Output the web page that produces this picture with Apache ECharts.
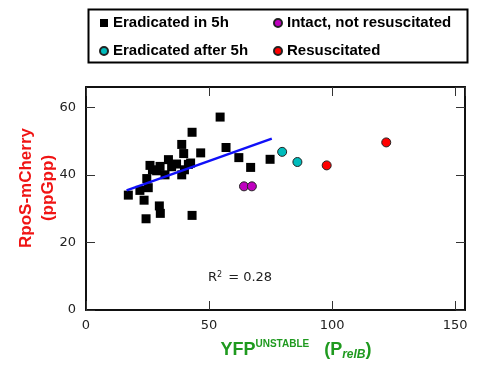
<!DOCTYPE html>
<html>
<head>
<meta charset="utf-8">
<script src="https://cdn.jsdelivr.net/npm/echarts@6/dist/echarts.min.js"></script>
<style>
  html, body { margin: 0; padding: 0; background: #fff; }
  #chart { width: 477px; height: 369px; }
</style>
</head>
<body>
<div id="chart"></div>
<script>
// YFP (x) vs RpoS-mCherry (y) per cell group
const eradicatedIn5h = [
  [17.2, 34.0], [21.9, 35.4], [23.6, 32.5], [24.4, 27.0], [24.7, 38.9],
  [25.3, 36.2], [26.0, 42.8], [27.0, 41.5], [28.7, 41.2], [29.8, 30.8],
  [30.2, 28.6], [30.1, 42.5], [32.1, 40.0], [33.5, 44.5], [34.8, 42.4],
  [36.8, 43.2], [38.9, 40.0], [40.0, 41.5], [41.6, 43.1], [42.5, 43.5],
  [39.7, 46.3], [38.9, 49.0], [43.1, 52.6], [43.1, 28.0], [46.6, 46.5],
  [54.5, 57.1], [56.9, 48.1], [62.1, 45.1], [66.9, 42.2], [74.8, 44.6]
];
const eradicatedAfter5h = [[79.7, 46.8], [85.9, 43.8]];
const intactNotResuscitated = [[64.2, 36.6], [67.4, 36.6]];
const resuscitated = [[97.8, 42.8], [122.0, 49.6]];
// linear fit over the "eradicated in 5h" group
const fitLine = [[16.5, 35.4], [75.5, 50.7]];
const rSquared = '0.28';

const xTicks = [0, 50, 100, 150];
const yTicks = [0, 20, 40, 60];

const chart = echarts.init(document.getElementById('chart'));
const tickFont = { fontFamily: 'DejaVu Sans', fontSize: 13, color: '#222' };

function axisCommon(showLabels) {
  return {
    axisLine: { show: true, onZero: false, lineStyle: { color: '#111', width: 2 } },
    axisTick: { show: true, inside: true, length: 9, lineStyle: { color: '#333', width: 1 } },
    splitLine: { show: false },
    axisLabel: Object.assign({ show: showLabels, showMaxLabel: false }, tickFont)
  };
}

const legendText = { fontFamily: 'Liberation Sans', fontWeight: 'bold', fontSize: 15, color: '#000', lineHeight: 16 };

chart.setOption({
  animation: false,
  grid: { left: 86, right: 12, top: 87, bottom: 59, containLabel: false },
  xAxis: [
    Object.assign({ type: 'value', min: xTicks[0], max: 154, interval: xTicks[1] - xTicks[0], position: 'bottom' }, axisCommon(true), {
      axisLabel: Object.assign({ margin: 9, showMaxLabel: false }, tickFont)
    }),
    Object.assign({ type: 'value', min: xTicks[0], max: 154, interval: xTicks[1] - xTicks[0], position: 'top' }, axisCommon(false))
  ],
  yAxis: [
    Object.assign({ type: 'value', min: yTicks[0], max: 66, interval: yTicks[1] - yTicks[0], position: 'left' }, axisCommon(true), {
      axisLabel: Object.assign({ margin: 10, showMaxLabel: false }, tickFont)
    }),
    Object.assign({ type: 'value', min: yTicks[0], max: 66, interval: yTicks[1] - yTicks[0], position: 'right' }, axisCommon(false))
  ],
  legend: [
    {
      data: ['Eradicated in 5h', 'Eradicated after 5h'],
      orient: 'vertical', left: 94, top: 10,
      itemWidth: 8, itemHeight: 8, itemGap: 12,
      textStyle: legendText
    },
    {
      data: ['Intact, not resuscitated', 'Resuscitated'],
      orient: 'vertical', left: 268, top: 10,
      itemWidth: 8, itemHeight: 8, itemGap: 12,
      textStyle: legendText
    }
  ],
  series: [
    {
      name: 'Eradicated in 5h', type: 'scatter', symbol: 'rect', symbolSize: 9,
      itemStyle: { color: '#000', opacity: 1 }, data: eradicatedIn5h, z: 3
    },
    {
      name: 'fit', type: 'line', data: fitLine, symbol: 'none',
      lineStyle: { color: '#1010f8', width: 2.5 }, z: 4, silent: true
    },
    {
      name: 'Eradicated after 5h', type: 'scatter', symbol: 'circle', symbolSize: 9,
      itemStyle: { color: '#00bcbc', borderColor: '#222', borderWidth: 1, opacity: 1 }, data: eradicatedAfter5h, z: 3
    },
    {
      name: 'Intact, not resuscitated', type: 'scatter', symbol: 'circle', symbolSize: 9,
      itemStyle: { color: '#bf00bf', borderColor: '#222', borderWidth: 1, opacity: 1 }, data: intactNotResuscitated, z: 3
    },
    {
      name: 'Resuscitated', type: 'scatter', symbol: 'circle', symbolSize: 9,
      itemStyle: { color: '#ff0000', borderColor: '#222', borderWidth: 1, opacity: 1 }, data: resuscitated, z: 3
    }
  ],
  graphic: [
    {
      type: 'rect', left: 86, top: 7, z: 10, silent: true,
      shape: { width: 379, height: 53 },
      style: { fill: 'none', stroke: '#000', lineWidth: 2 }
    },
    {
      type: 'text', x: 240, y: 278, z: 10,
      style: {
        text: '{b|R}{s|2}{b| = ' + rSquared + '}',
        align: 'center', verticalAlign: 'middle',
        rich: {
          b: { fontFamily: 'DejaVu Sans', fontSize: 13, fill: '#222', color: '#222' },
          s: { fontFamily: 'DejaVu Sans', fontSize: 8, fill: '#222', color: '#222', verticalAlign: 'top', padding: [0, 2, 7, 0] }
        }
      }
    },
    {
      type: 'text', x: 37, y: 188, rotation: Math.PI / 2, z: 10,
      style: {
        text: 'RpoS-mCherry\n(ppGpp)',
        align: 'center', verticalAlign: 'middle',
        fontFamily: 'Liberation Sans', fontWeight: 'bold', fontSize: 17, lineHeight: 22,
        fill: '#f01414'
      }
    },
    {
      type: 'text', x: 296, y: 350, z: 10,
      style: {
        text: '{a|YFP}{sup|UNSTABLE}{a|   (P}{sub|relB}{a|)}',
        align: 'center', verticalAlign: 'middle',
        rich: {
          a: { fontFamily: 'Liberation Sans', fontWeight: 'bold', fontSize: 18, fill: '#1f9a1f', color: '#1f9a1f' },
          sup: { fontFamily: 'Liberation Sans', fontWeight: 'bold', fontSize: 10, fill: '#1f9a1f', color: '#1f9a1f', padding: [0, 0, 11, 0] },
          sub: { fontFamily: 'Liberation Sans', fontWeight: 'bold', fontStyle: 'italic', fontSize: 12, fill: '#1f9a1f', color: '#1f9a1f', padding: [10, 0, 0, 0] }
        }
      }
    }
  ]
});
</script>
</body>
</html>
